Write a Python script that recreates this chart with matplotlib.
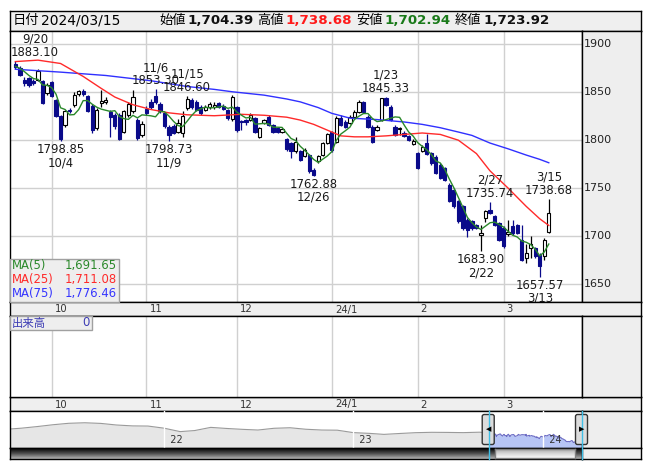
import matplotlib
matplotlib.use("Agg")
import matplotlib.pyplot as plt
import matplotlib.transforms as mtrans
from matplotlib.patches import Rectangle, FancyBboxPatch
from matplotlib.lines import Line2D
import numpy as np
import pandas as pd

plt.rcParams['font.family'] = ['DejaVu Sans', 'Noto Sans CJK JP']

# ---------------- data ----------------
trade_days = {
    (2023, 9): [20, 21, 22, 25, 26, 27, 28, 29],
    (2023, 10): [2, 3, 4, 5, 6, 10, 11, 12, 13, 16, 17, 18, 19, 20, 23, 24, 25, 26, 27, 30, 31],
    (2023, 11): [1, 2, 6, 7, 8, 9, 10, 13, 14, 15, 16, 17, 20, 21, 22, 24, 27, 28, 29, 30],
    (2023, 12): [1, 4, 5, 6, 7, 8, 11, 12, 13, 14, 15, 18, 19, 20, 21, 22, 25, 26, 27, 28, 29],
    (2024, 1): [4, 5, 9, 10, 11, 12, 15, 16, 17, 18, 19, 22, 23, 24, 25, 26, 29, 30, 31],
    (2024, 2): [1, 2, 5, 6, 7, 8, 9, 13, 14, 15, 16, 19, 20, 21, 22, 26, 27, 28, 29],
    (2024, 3): [1, 4, 5, 6, 7, 8, 11, 12, 13, 14, 15],
}

opens = [1879.3, 1875.2, 1863.0, 1864.8, 1862.0, 1863.1, 1861.4, 1849.3, 1861.0, 1842.0,
         1825.0, 1816.0, 1832.0, 1837.0, 1848.0, 1851.0, 1846.0, 1836.0, 1813.0, 1839.0,
         1840.0, 1829.0, 1826.0, 1826.0, 1809.0, 1826.0, 1830.0, 1821.0, 1805.0, 1833.0,
         1840.0, 1846.0, 1838.0, 1828.0, 1814.0, 1815.0, 1809.0, 1807.0, 1834.0, 1842.0,
         1840.0, 1835.0, 1832.0, 1835.0, 1835.0, 1838.5, 1836.0, 1831.6, 1822.0, 1835.0,
         1820.0, 1821.0, 1821.2, 1822.9, 1803.8, 1817.7, 1824.7, 1816.0, 1812.5, 1809.0,
         1801.0, 1796.9, 1788.2, 1788.2, 1783.0, 1784.7, 1769.0, 1777.8, 1784.7, 1796.9,
         1809.0, 1798.6, 1823.0, 1819.4, 1817.7, 1824.7, 1829.9, 1839.6, 1824.7, 1814.2,
         1810.8, 1821.2, 1843.8, 1835.1, 1814.2, 1811.5, 1807.5, 1804.5, 1795.5, 1786.5,
         1789.2, 1797.0, 1786.5, 1782.0, 1774.3, 1770.8, 1753.5, 1748.3, 1736.1, 1730.9,
         1717.0, 1715.3, 1711.8, 1701.4, 1718.8, 1726.7, 1720.5, 1713.5, 1708.3, 1702.1,
         1710.1, 1711.8, 1696.2, 1677.1, 1687.5, 1687.5, 1680.6, 1678.8, 1704.39]
highs = [1883.10, 1877.0, 1866.0, 1866.0, 1864.0, 1874.0, 1863.0, 1860.0, 1862.0, 1843.0,
         1826.0, 1832.0, 1834.0, 1850.0, 1852.0, 1853.0, 1847.0, 1838.0, 1834.0, 1852.0,
         1845.0, 1832.0, 1828.0, 1828.0, 1831.0, 1840.0, 1852.0, 1823.0, 1820.0, 1836.0,
         1843.0, 1853.30, 1840.0, 1829.0, 1816.0, 1817.0, 1822.0, 1830.0, 1846.60, 1844.0,
         1842.0, 1837.0, 1837.0, 1840.0, 1840.0, 1840.0, 1838.0, 1833.0, 1847.2, 1836.0,
         1821.0, 1822.0, 1828.0, 1824.0, 1814.0, 1822.5, 1826.0, 1817.0, 1813.5, 1813.0,
         1802.0, 1798.0, 1803.8, 1789.5, 1791.7, 1786.0, 1770.5, 1784.5, 1798.0, 1807.5,
         1810.0, 1825.0, 1826.0, 1821.0, 1826.0, 1831.0, 1842.0, 1841.0, 1826.0, 1815.5,
         1815.5, 1844.5, 1845.33, 1836.5, 1815.5, 1814.2, 1809.5, 1805.5, 1801.0, 1788.0,
         1795.0, 1806.0, 1787.5, 1784.7, 1776.0, 1772.0, 1755.0, 1750.0, 1737.5, 1732.0,
         1718.5, 1716.5, 1713.0, 1711.8, 1727.4, 1735.74, 1722.0, 1715.0, 1710.0, 1717.0,
         1717.0, 1713.0, 1712.0, 1691.7, 1699.7, 1689.0, 1682.0, 1697.5, 1738.68]
lows = [1874.0, 1867.0, 1857.0, 1856.0, 1858.0, 1862.0, 1838.0, 1847.0, 1845.0, 1824.0,
        1798.85, 1814.0, 1828.0, 1835.0, 1846.0, 1846.0, 1829.0, 1808.0, 1811.0, 1835.0,
        1838.0, 1803.0, 1812.0, 1800.0, 1807.0, 1824.0, 1828.0, 1800.0, 1803.0, 1826.0,
        1833.0, 1838.0, 1828.0, 1813.0, 1798.73, 1806.0, 1807.0, 1803.0, 1832.0, 1833.0,
        1830.0, 1826.0, 1830.0, 1833.0, 1833.0, 1834.0, 1832.0, 1821.0, 1820.0, 1809.0,
        1810.8, 1816.0, 1820.0, 1808.0, 1802.5, 1816.5, 1815.0, 1807.0, 1807.5, 1808.0,
        1789.0, 1781.0, 1787.0, 1778.0, 1782.0, 1766.0, 1762.88, 1776.5, 1783.5, 1795.5,
        1788.0, 1797.0, 1815.0, 1813.0, 1816.5, 1823.5, 1828.5, 1829.0, 1813.0, 1797.5,
        1809.5, 1820.0, 1835.5, 1820.0, 1804.5, 1805.6, 1803.0, 1799.5, 1794.5, 1770.0,
        1788.0, 1784.5, 1774.5, 1764.5, 1759.0, 1757.0, 1735.0, 1729.5, 1713.5, 1706.5,
        1699.5, 1706.5, 1707.0, 1683.90, 1714.5, 1723.0, 1710.5, 1694.5, 1687.5, 1699.7,
        1701.5, 1702.0, 1674.0, 1671.9, 1677.1, 1677.5, 1657.57, 1675.0, 1702.94]
closes = [1875.9, 1868.3, 1859.7, 1858.0, 1859.5, 1871.7, 1839.0, 1858.0, 1846.0, 1825.0,
          1801.0, 1830.0, 1830.0, 1847.5, 1851.0, 1848.0, 1830.0, 1811.0, 1832.0, 1841.0,
          1842.0, 1824.0, 1815.0, 1801.5, 1830.0, 1838.0, 1845.0, 1802.0, 1817.0, 1828.0,
          1835.0, 1840.0, 1830.0, 1815.0, 1805.0, 1808.0, 1818.0, 1825.0, 1843.0, 1835.0,
          1832.0, 1828.0, 1835.0, 1838.0, 1837.0, 1835.0, 1833.0, 1822.9, 1844.8, 1810.8,
          1819.0, 1818.5, 1826.4, 1809.0, 1812.5, 1821.2, 1816.0, 1809.0, 1809.0, 1811.5,
          1791.0, 1788.2, 1798.6, 1779.5, 1789.9, 1767.4, 1764.0, 1783.0, 1796.9, 1806.2,
          1789.9, 1823.0, 1816.0, 1814.2, 1824.7, 1829.9, 1840.3, 1829.9, 1814.2, 1798.6,
          1814.0, 1843.8, 1836.8, 1821.2, 1805.6, 1811.8, 1804.0, 1800.3, 1799.5, 1771.5,
          1792.7, 1786.0, 1776.0, 1766.0, 1760.4, 1758.7, 1736.1, 1730.9, 1715.3, 1708.3,
          1706.6, 1708.3, 1708.3, 1703.0, 1725.7, 1724.0, 1711.8, 1696.2, 1689.2, 1703.8,
          1703.1, 1703.1, 1675.3, 1682.3, 1691.7, 1678.8, 1668.4, 1695.45, 1723.92]

# MA(5) values of the first four days (need data before the window)
ma5_head = [1877.0, 1875.0, 1871.5, 1867.5]
# MA(25) / MA(75) at these trading-day indices
ma25_idx = [0, 5, 10, 15, 19, 22, 26, 30, 34, 38, 44, 50, 55, 60, 63, 66, 69, 72, 75, 78,
            82, 86, 90, 94, 98, 102, 105, 109, 113, 116, 118]
ma25_val = [1882.0, 1883.5, 1880.0, 1866.5, 1854.0, 1845.0, 1837.0, 1832.0, 1828.5, 1826.5,
            1825.5, 1827.0, 1826.0, 1824.0, 1821.0, 1816.5, 1810.5, 1804.5, 1803.5, 1803.5,
            1804.5, 1806.0, 1807.5, 1806.0, 1800.0, 1786.0, 1768.0, 1750.0, 1731.0, 1718.0, 1711.08]
ma75_idx = [0, 10, 20, 30, 38, 44, 48, 55, 60, 63, 67, 70, 74, 80, 86, 90, 94, 98, 101,
            105, 109, 113, 116, 118]
ma75_val = [1874.0, 1871.0, 1867.5, 1862.0, 1856.0, 1853.0, 1850.5, 1847.0, 1843.0, 1840.0,
            1834.0, 1828.0, 1823.0, 1821.5, 1819.0, 1816.5, 1813.0, 1808.5, 1805.0,
            1797.0, 1791.0, 1784.5, 1780.0, 1776.46]

price_ticks = [1650, 1700, 1750, 1800, 1850, 1900]

# labelled highs / lows
ann_specs = [(0, 'high'), (10, 'low'), (31, 'high'), (34, 'low'), (38, 'high'),
             (66, 'low'), (82, 'high'), (103, 'low'), (105, 'high'), (116, 'low'), (118, 'high')]

# navigator history (monthly readings before the displayed window)
nav_months = ['2021-03', '2021-04', '2021-05', '2021-06', '2021-07', '2021-08', '2021-09',
              '2021-10', '2021-11', '2021-12', '2022-01', '2022-02', '2022-03', '2022-04',
              '2022-05', '2022-06', '2022-07', '2022-08', '2022-09', '2022-10', '2022-11',
              '2022-12', '2023-01', '2023-02', '2023-03', '2023-04', '2023-05', '2023-06',
              '2023-07', '2023-08', '2023-09']
nav_values = [1938, 1960, 1990, 2025, 2052, 2062, 2050, 2020, 2003, 2000,
              1960, 1895, 1915, 1975, 1955, 1938, 1925, 1958, 1968, 1940, 1925, 1922,
              1876, 1862, 1843, 1860, 1875, 1882, 1880, 1876, 1884]
nav_years = [2022, 2023, 2024]

# ---------------- derived ----------------
dates = [pd.Timestamp(y, m, d) for (y, m), days in trade_days.items() for d in days]
n = len(dates)
xi = np.arange(n)
o = np.array(opens); h = np.array(highs); l = np.array(lows); c = np.array(closes)
ma5 = pd.Series(c).rolling(5).mean().to_numpy()
ma5[:4] = ma5_head

month_idx, month_lab = [], []
for i in range(1, n):
    if dates[i].month != dates[i - 1].month:
        month_idx.append(i)
        month_lab.append(f"{dates[i].year % 100}/1" if dates[i].month == 1 else str(dates[i].month))


def frac_year(ts):
    s = pd.Timestamp(ts.year, 1, 1)
    e = pd.Timestamp(ts.year + 1, 1, 1)
    return ts.year + (ts - s) / (e - s)


# ---------------- layout ----------------
W, H = 653, 470
fig = plt.figure(figsize=(W / 100, H / 100), dpi=100)
fig.patch.set_facecolor('white')

L, PR, R = 10, 582, 641
YH0, YP0, YP1, YB1, YV1, YB2, YN1, YS1 = 11, 31, 302, 316, 397, 411, 448, 459
GRID = '#d0d0d0'
PANEL = '#eeeeee'
NAVY = '#0a0a8a'
FS = 8.4


def fr(x0, y0, x1, y1):
    return [x0 / W, 1 - y1 / H, (x1 - x0) / W, (y1 - y0) / H]


def plain(a, fc='white'):
    a.set_xticks([]); a.set_yticks([])
    a.set_facecolor(fc)
    for s in a.spines.values():
        s.set_color('black'); s.set_linewidth(1)


XLIM = (-1.19, 125.35)

# header
axh = fig.add_axes(fr(L, YH0, R, YP0)); plain(axh, '#efefef')

# price panel
ax = fig.add_axes(fr(L, YP0, PR, YP1)); plain(ax)
ax.set_xlim(*XLIM)
ax.set_ylim(1631.2, 1913.9)
for v in price_ticks:
    ax.axhline(v, color=GRID, lw=1, zorder=0)
for m in month_idx:
    ax.axvline(m, color=GRID, lw=1, zorder=0)

up = c >= o
blo = np.minimum(o, c)
bh = np.maximum(np.abs(c - o), 0.7)
ax.vlines(xi[up], l[up], h[up], color='black', lw=0.9, zorder=2)
ax.vlines(xi[~up], l[~up], h[~up], color=NAVY, lw=0.9, zorder=2)
ax.bar(xi[up], bh[up], bottom=blo[up], width=0.72, facecolor='white', edgecolor='black', lw=0.8, zorder=3)
ax.bar(xi[~up], bh[~up], bottom=blo[~up], width=0.72, facecolor=NAVY, edgecolor=NAVY, lw=0.8, zorder=3)

ax.plot(ma75_idx, ma75_val, color='#3030ff', lw=1, zorder=4)
ax.plot(ma25_idx, ma25_val, color='#ff2a2a', lw=1, zorder=4)
ax.plot(xi, ma5, color='#2a882a', lw=1, zorder=4)

anns = []
for i, kind in ann_specs:
    d = dates[i]
    lab = f"{d.month}/{d.day}"
    if kind == 'high':
        s, xy, off, va = f"{lab}\n{h[i]:.2f}", (i, h[i]), (0, 2), 'bottom'
    else:
        s, xy, off, va = f"{l[i]:.2f}\n{lab}", (i, l[i]), (0, -2), 'top'
    t = ax.annotate(s, xy=xy, xytext=off, textcoords='offset pixels', ha='center', va=va,
                    fontsize=FS, linespacing=1.0, color='#1a1a1a', zorder=6,
                    multialignment='center', annotation_clip=False)
    anns.append((t, off))

# right axis area for price
axr = fig.add_axes(fr(PR, YP0, R, YP1)); plain(axr, PANEL)
axr.set_ylim(ax.get_ylim())
tr = mtrans.blended_transform_factory(axr.transAxes, axr.transData)
for v in price_ticks:
    axr.text(0.03, v, str(v), transform=tr, va='center', ha='left', fontsize=8, color='#222')

# month bands
band_tr = mtrans.blended_transform_factory(ax.transData, fig.transFigure) + \
    mtrans.ScaledTranslation(3 / 100, 0, fig.dpi_scale_trans)
for yb0, yb1 in [(YP1, YB1), (YV1, YB2)]:
    axb = fig.add_axes(fr(L, yb0, R, yb1)); plain(axb, '#efefef')
    for m, lab in zip(month_idx, month_lab):
        fig.text(m, 1 - ((yb0 + yb1) / 2 + 0.5) / H, lab, transform=band_tr, fontsize=7.2,
                 color='#333', ha='left', va='center', zorder=5)

# volume panel
axv = fig.add_axes(fr(L, YB1, PR, YV1)); plain(axv)
axv.set_xlim(*XLIM)
for m in month_idx:
    axv.axvline(m, color=GRID, lw=1, zorder=0)
axvr = fig.add_axes(fr(PR, YB1, R, YV1)); plain(axvr, PANEL)

# navigator
axn = fig.add_axes(fr(L, YB2, PR, YN1)); plain(axn)
axn.set_xlim(2021.186, 2024.208)
axn.set_ylim(1586, 2284)
nav_x = [frac_year(pd.Timestamp(m + '-01')) for m in nav_months]
sel_x = [frac_year(d) for d in dates]
gx = nav_x + [sel_x[0]]
gy = nav_values + [closes[0]]
axn.fill_between(gx, gy, 1586, color='#e6e6e6', lw=0, zorder=1)
axn.plot(gx, gy, color='#9a9a9a', lw=0.8, zorder=2)
axn.fill_between(sel_x, closes, 1586, color='#b7c5f5', lw=0, zorder=1)
axn.plot(sel_x, closes, color='#6c6cc4', lw=0.8, zorder=2)
ntr = mtrans.blended_transform_factory(axn.transData, axn.transAxes)
for yv in nav_years:
    axn.axvline(yv, color='white', lw=1, zorder=3)
    axn.text(yv, 0.22, f"  {yv % 100}", transform=ntr, fontsize=7, color='#333',
             ha='left', va='center', zorder=4)
axnr = fig.add_axes(fr(PR, YB2, R, YN1)); plain(axnr, PANEL)

# figure pixel position of selection start
fig.canvas.draw()
sel_px = axn.transData.transform((sel_x[0], 0))[0]

# scrollbar
grad = np.linspace(0, 1, 64).reshape(-1, 1)
axs = fig.add_axes(fr(L, YN1, PR, YS1)); plain(axs)
axs.imshow(grad, aspect='auto', cmap=matplotlib.colors.LinearSegmentedColormap.from_list(
    'd', ['#b8b8b8', '#505050', '#000000']), extent=(0, 1, 0, 1))
axs.set_xlim(0, 1); axs.set_ylim(1, 0)
axt = fig.add_axes(fr(sel_px + 6, YN1 + 1, PR - 7, YS1 - 1)); plain(axt)
axt.imshow(grad, aspect='auto', cmap=matplotlib.colors.LinearSegmentedColormap.from_list(
    't', ['#fbfbfb', '#d8d8d8', '#a8a8a8']), extent=(0, 1, 0, 1))
axt.set_xlim(0, 1); axt.set_ylim(1, 0)
for s in axt.spines.values():
    s.set_color('#808080')
axsr = fig.add_axes(fr(PR, YN1, R, YS1)); plain(axsr, PANEL)

# overlay in pixel coordinates for UI decorations
ov = fig.add_axes([0, 0, 1, 1], zorder=10)
ov.set_xlim(0, W); ov.set_ylim(H, 0); ov.axis('off'); ov.patch.set_alpha(0)

# header texts
hy = 20.5
ov.text(13, hy, '日付', fontsize=9.5, va='center', ha='left')
ov.text(41, hy, dates[-1].strftime('%Y/%m/%d'), fontsize=10, va='center', ha='left')
hdr = [(159, '始値', o[-1], '#111111'), (257, '高値', h[-1], '#ff1a1a'),
       (356, '安値', l[-1], '#1a7a1a'), (455, '終値', c[-1], '#111111')]
for xx, lab, val, col in hdr:
    ov.text(xx, hy, lab, fontsize=9.5, va='center', ha='left')
    ov.text(xx + 28, hy, f"{val:,.2f}", fontsize=9.6, fontweight='bold', color=col,
            va='center', ha='left')

# MA legend box
ov.add_patch(Rectangle((L, 259), 109, YP1 - 259, facecolor=PANEL, edgecolor='#a0a0a0', lw=1))
leg = [('MA(5)', ma5[-1], '#2a882a'), ('MA(25)', ma25_val[-1], '#ff2a2a'),
       ('MA(75)', ma75_val[-1], '#3434ff')]
for k, (lab, val, col) in enumerate(leg):
    yy = 266 + 14 * k
    ov.text(12, yy, lab, fontsize=FS, color=col, va='center', ha='left')
    ov.text(117, yy, f"{val:,.2f}", fontsize=FS, color=col, va='center', ha='right')

# volume label box
ov.add_patch(Rectangle((L, YB1), 82, 14, facecolor=PANEL, edgecolor='#a0a0a0', lw=1))
ov.text(12, YB1 + 7, '出来高', fontsize=8.2, color='#3c3cb4', va='center', ha='left')
ov.text(90, YB1 + 7, '0', fontsize=FS, color='#3c3cb4', va='center', ha='right')

# selection lines and handles
for xx in (sel_px, PR):
    ov.add_line(Line2D([xx, xx], [YB2, YS1], color='#40c0e8', lw=1))
for xx, glyph in ((sel_px - 1, '◀'), (PR - 0.5, '▶')):
    ov.add_patch(FancyBboxPatch((xx - 5.5, 415), 11, 29, boxstyle='round,pad=0.5,rounding_size=2',
                                facecolor='#dcdcdc', edgecolor='#333333', lw=1))
    ov.text(xx, 429.5, glyph, fontsize=5, ha='center', va='center', color='black')

# clamp annotation labels inside the price panel
fig.canvas.draw()
axbb = ax.get_window_extent()
for t, off in anns:
    bb = t.get_window_extent()
    dx = 0
    if bb.x0 < axbb.x0 + 1:
        dx = axbb.x0 + 1 - bb.x0
    elif bb.x1 > axbb.x1 - 1:
        dx = axbb.x1 - 1 - bb.x1
    if dx:
        t.xyann = (off[0] + dx, off[1])

fig.savefig('out.png', dpi=100)
